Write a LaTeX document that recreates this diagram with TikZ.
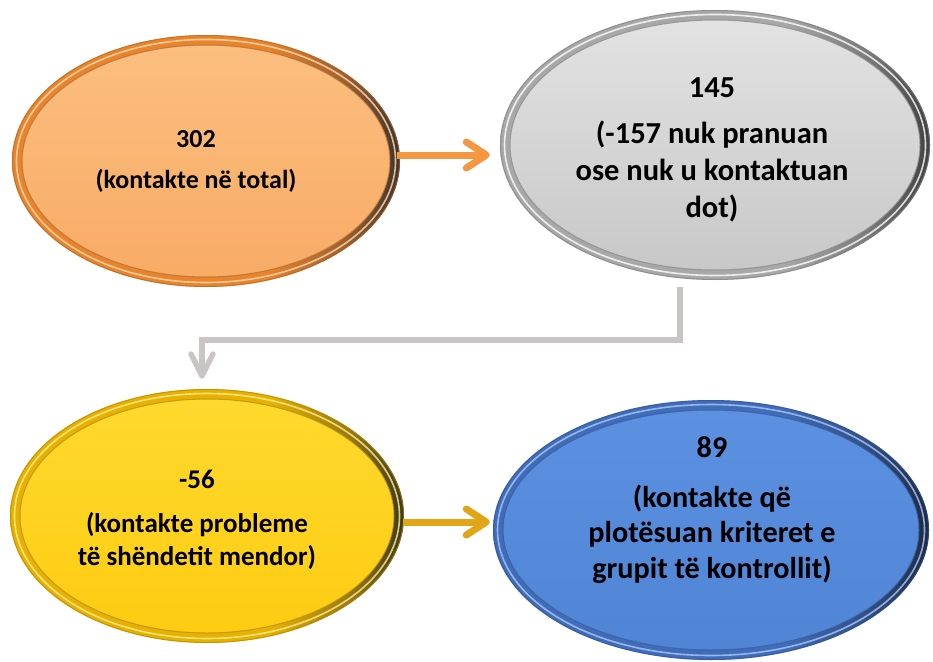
\documentclass[tikz,border=0pt]{standalone}
\usepackage{fontspec}
\setmainfont{Carlito}
\usetikzlibrary{arrows.meta,shapes.geometric}

\definecolor{oTop}{HTML}{FBBE7F}
\definecolor{oBot}{HTML}{F8AC66}
\definecolor{oRing}{HTML}{E8842C}
\definecolor{oDark}{HTML}{3E3430}
\definecolor{oHl}{HTML}{FFDDB4}

\definecolor{gTop}{HTML}{E2E2E2}
\definecolor{gBot}{HTML}{C8C8C8}
\definecolor{gRing}{HTML}{A8A8A8}
\definecolor{gDark}{HTML}{404040}
\definecolor{gHl}{HTML}{FFFFFF}

\definecolor{yTop}{HTML}{FFD92E}
\definecolor{yBot}{HTML}{FDCC12}
\definecolor{yRing}{HTML}{E8B000}
\definecolor{yDark}{HTML}{3C3820}
\definecolor{yHl}{HTML}{FFF194}

\definecolor{bTop}{HTML}{5C90E0}
\definecolor{bBot}{HTML}{5084D5}
\definecolor{bRing}{HTML}{3F6DBC}
\definecolor{bDark}{HTML}{1E2A45}
\definecolor{bHl}{HTML}{AFC9F2}

\definecolor{arrO}{HTML}{F59640}
\definecolor{arrY}{HTML}{E0A618}
\definecolor{arrG}{HTML}{C9C5C5}

\colorlet{ringc}{gray}
\colorlet{darkc}{black}
\pgfdeclarehorizontalshading[ringc,darkc]{ringsh}{100bp}{%
  color(0bp)=(ringc); color(25bp)=(ringc); color(58bp)=(ringc);
  color(68bp)=(darkc!45!ringc); color(75bp)=(darkc); color(100bp)=(darkc)}

% cx cy rx ry top bottom ring dark highlight
\newcommand\bevelell[9]{%
  \colorlet{ringc}{#7}\colorlet{darkc}{#8}%
  \shade[shading=ringsh, even odd rule]
    (#1,#2) ellipse [x radius=#3pt, y radius=#4pt]
    (#1,#2) ellipse [x radius=#3pt-10pt, y radius=#4pt-10pt];
  \shade[top color=#5, bottom color=#6]
    (#1,#2) ellipse [x radius=#3pt-10pt, y radius=#4pt-10pt];
  \draw[#7!70!#8, line width=1pt, opacity=.8]
    (#1,#2) ellipse [x radius=#3pt-10pt, y radius=#4pt-10pt];
  \draw[#9, line width=1.6pt, opacity=.8]
    (#1,#2) ellipse [x radius=#3pt-4.5pt, y radius=#4pt-4.5pt];
  \draw[#7!75!black, line width=1pt, opacity=.6]
    (#1,#2) ellipse [x radius=#3pt-.5pt, y radius=#4pt-.5pt];
}

\begin{document}
\begin{tikzpicture}[x=1pt,y=-1pt,
  ellbox/.style={ellipse, inner sep=0pt, draw=none},
  txt/.style={align=center, anchor=base, inner sep=0pt, text=black},
  oarrow/.style={draw=arrO, line width=7pt, -{Straight Barb[length=20pt,width=26pt,round]}},
  yarrow/.style={draw=arrY, line width=7pt, -{Straight Barb[length=20pt,width=26pt,round]}},
  garrow/.style={draw=arrG, line width=5.5pt, -{Straight Barb[length=22pt,width=22pt,round]}}]
\useasboundingbox (0,0) rectangle (933,661);
\fill[white] (0,0) rectangle (933,661);

\bevelell{206}{161}{194}{126}{oTop}{oBot}{oRing}{oDark}{oHl}
\bevelell{715}{145}{215}{135}{gTop}{gBot}{gRing}{gDark}{gHl}
\bevelell{207}{516}{197}{127}{yTop}{yBot}{yRing}{yDark}{yHl}
\bevelell{711}{530}{218}{130}{bTop}{bBot}{bRing}{bDark}{bHl}

\node[ellbox, minimum width=388pt, minimum height=252pt] (o) at (206,161) {};
\node[ellbox, minimum width=430pt, minimum height=270pt] (g) at (715,145) {};
\node[ellbox, minimum width=394pt, minimum height=254pt] (y) at (207,516) {};
\node[ellbox, minimum width=436pt, minimum height=260pt] (b) at (711,530) {};

\node[txt, font=\fontsize{26}{31.7}\selectfont\bfseries] (ot) at (196,188)
  {302\\[9pt](kontakte në total)};
\node[txt, font=\fontsize{30.5}{37}\selectfont\bfseries] (gt) at (712,217)
  {145\\[9pt](-157 nuk pranuan\\ose nuk u kontaktuan\\dot)};
\node[txt, font=\fontsize{27}{33}\selectfont\bfseries] (yt) at (197,565)
  {-56\\[11pt](kontakte probleme\\të shëndetit mendor)};
\node[txt, font=\fontsize{30.2}{35.5}\selectfont\bfseries] (bt) at (712,578)
  {89\\[14.5pt](kontakte që\\plotësuan kriteret e\\grupit të kontrollit)};

\draw[oarrow, shorten <=-3pt, shorten >=10pt] (o.east |- 0,155) -- (g.west |- 0,155);
\draw[yarrow, shorten <=-1pt, shorten >=3pt] (y.east |- 0,522) -- (b.west |- 0,522);
\draw[garrow] ([xshift=-35pt,yshift=-7pt]g.south) |- (440,340)
  -| ([xshift=-5pt,yshift=10pt]y.north);
\end{tikzpicture}
\end{document}
